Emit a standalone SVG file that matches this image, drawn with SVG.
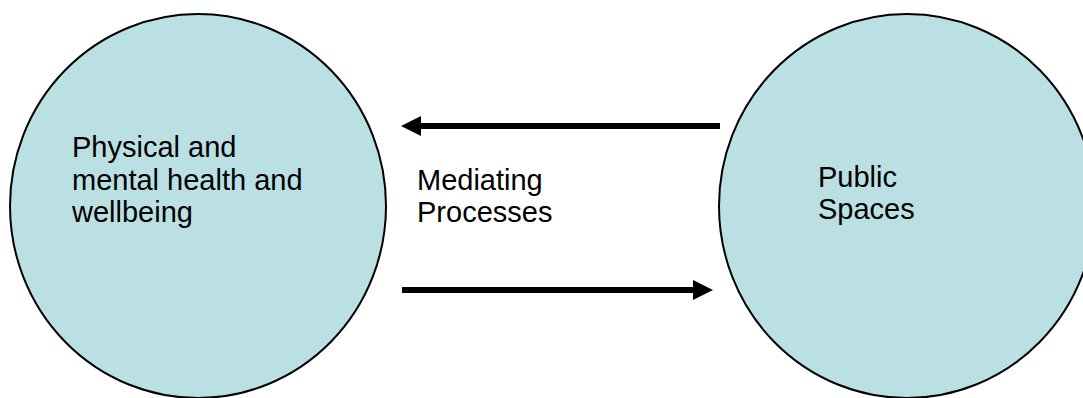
<svg xmlns="http://www.w3.org/2000/svg" width="1083" height="398" viewBox="0 0 1083 398">
<style>
.node{fill:#bae0e3;stroke:#000;stroke-width:2}
.lbl{font-family:"Liberation Sans",Arial,sans-serif;font-size:29px;fill:#000}
.conn{stroke:#000;stroke-width:6;fill:none}
</style>
<defs>
<marker id="ah" markerUnits="userSpaceOnUse" markerWidth="20" markerHeight="20" refX="1" refY="10" orient="auto" viewBox="0 0 20 20">
<path d="M0,0 L20,10 L0,20 Z" fill="#000"/>
</marker>
</defs>
<rect width="1083" height="398" fill="#fff"/>
<g id="health">
<ellipse class="node" cx="198" cy="206" rx="188" ry="192"/>
<text class="lbl" x="72" y="157">Physical and</text>
<text class="lbl" x="72" y="190">mental health and</text>
<text class="lbl" x="72" y="222">wellbeing</text>
</g>
<g id="spaces">
<ellipse class="node" cx="907" cy="206" rx="188" ry="192"/>
<text class="lbl" x="818" y="187">Public</text>
<text class="lbl" x="818" y="219">Spaces</text>
</g>
<g id="connectors">
<line class="conn" x1="720" y1="126" x2="420" y2="126" marker-end="url(#ah)"/>
<line class="conn" x1="402" y1="290" x2="694" y2="290" marker-end="url(#ah)"/>
</g>
<g id="mediating">
<text class="lbl" x="417" y="190">Mediating</text>
<text class="lbl" x="417" y="222">Processes</text>
</g>
</svg>
